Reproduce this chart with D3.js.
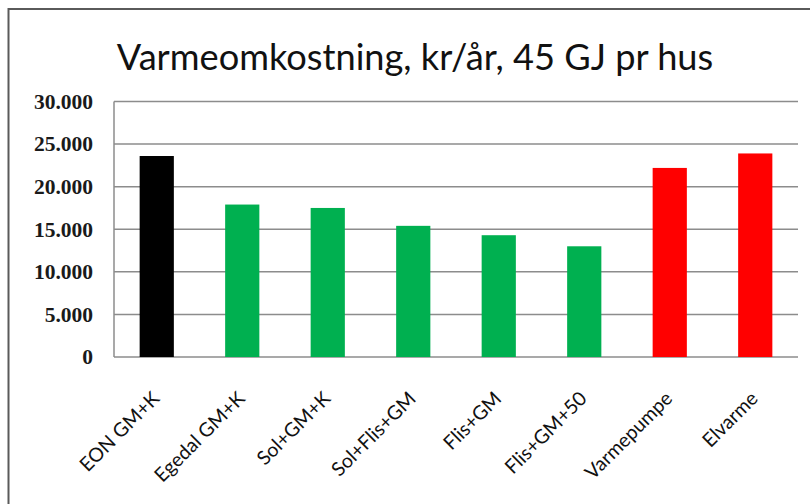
<!DOCTYPE html>
<html>
<head>
<meta charset="utf-8">
<script src="https://cdn.jsdelivr.net/npm/d3@7"></script>
<style>
  body { margin: 0; background: #fff; }
</style>
</head>
<body>
<svg class="chart"></svg>
<script>
var categories = ["EON GM+K", "Egedal GM+K", "Sol+GM+K", "Sol+Flis+GM", "Flis+GM", "Flis+GM+50", "Varmepumpe", "Elvarme"];
var values = [23600, 17900, 17500, 15400, 14300, 13000, 22200, 23900];
var barColors = ["#000000", "#00b050", "#00b050", "#00b050", "#00b050", "#00b050", "#ff0000", "#ff0000"];
var yTicks = [0, 5000, 10000, 15000, 20000, 25000, 30000];
var title = "Varmeomkostning, kr/år, 45 GJ pr hus";

var svgWidth = 810,
    svgHeight = 504;
var plotLeft = 114, plotRight = 798, plotTop = 101.5, plotBottom = 357;

var svg = d3.select(".chart")
      .attr("width", svgWidth)
      .attr("height", svgHeight)

// outer frame, cut off at right and bottom like the screenshot
svg.append("rect")
      .attr("x", 8.5)
      .attr("y", 9)
      .attr("width", 830)
      .attr("height", 530)
      .attr("fill", "#fff")
      .attr("stroke", "#5a5a5a")
      .attr("stroke-width", 2)

var x = d3.scaleBand()
      .domain(categories)
      .range([plotLeft, plotRight])
      .paddingInner(0.6)
      .paddingOuter(0.3)

var y = d3.scaleLinear()
      .domain([0, 30000])
      .range([plotBottom, plotTop])

var danish = d3.formatLocale({decimal: ",", thousands: ".", grouping: [3], currency: ["", " kr"]});
var fmt = danish.format(",d");

svg.append("text")
      .text(title)
      .attr("x", 415)
      .attr("y", 70)
      .attr("text-anchor", "middle")
      .attr("font-family", "Lato, 'Open Sans', sans-serif")
      .attr("font-size", "36.2px")
      .attr("fill", "#111")

// gridlines
svg.selectAll("line.grid")
      .data(yTicks)
      .enter()
      .append("line")
      .attr("class", "grid")
      .attr("x1", plotLeft)
      .attr("x2", plotRight)
      .attr("y1", function(d) { return y(d); })
      .attr("y2", function(d) { return y(d); })
      .attr("stroke", "#8c8c8c")
      .attr("stroke-width", 1.5)

svg.append("line")
      .attr("x1", plotLeft)
      .attr("x2", plotLeft)
      .attr("y1", y(30000))
      .attr("y2", y(0))
      .attr("stroke", "#8c8c8c")
      .attr("stroke-width", 1.5)

var yAxis = svg.append("g")
      .attr("transform", "translate(" + plotLeft + ",0)")
      .call(d3.axisLeft(y).tickValues(yTicks).tickFormat(fmt).tickSize(0).tickPadding(21))
yAxis.select(".domain").remove()
yAxis.selectAll("text")
      .attr("font-family", "'Liberation Serif', serif")
      .attr("font-weight", "bold")
      .attr("font-size", "21.5px")
      .attr("fill", "#1a1a1a")

svg.selectAll("rect.bar")
      .data(values)
      .enter()
      .append("rect")
      .attr("class", "bar")
      .attr("x", function(d, i) { return x(categories[i]); })
      .attr("width", x.bandwidth())
      .attr("y", function(d) { return y(d); })
      .attr("height", function(d) { return y(0) - y(d); })
      .attr("fill", function(d, i) { return barColors[i]; })

svg.selectAll("text.cat")
      .data(categories)
      .enter()
      .append("text")
      .attr("class", "cat")
      .text(function(d) { return d; })
      .attr("text-anchor", "end")
      .attr("dy", "0.35em")
      .attr("transform", function(d) {
        var cx = x(d) + x.bandwidth() / 2;
        return "translate(" + (cx - 1) + "," + 395 + ") rotate(-45)";
      })
      .attr("font-family", "Lato, 'Open Sans', sans-serif")
      .attr("font-size", "19.5px")
      .attr("fill", "#111")
</script>
</body>
</html>
